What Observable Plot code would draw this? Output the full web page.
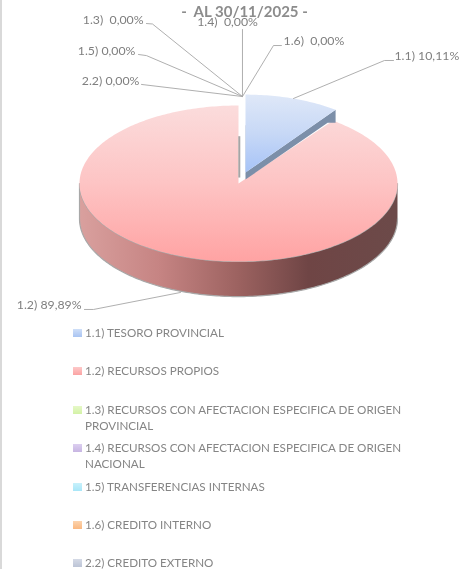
<!DOCTYPE html>
<html><head><meta charset="utf-8">
<script src="https://cdn.jsdelivr.net/npm/d3@7"></script>
<script src="https://cdn.jsdelivr.net/npm/@observablehq/plot@0.6"></script>
<style>
html,body{margin:0;padding:0;background:#fff;width:474px;height:569px;overflow:hidden}
body::before{content:"";position:fixed;left:0;top:0;bottom:0;width:1.5px;background:#d9d9d9}
#chart svg{display:block;filter:blur(0.4px)}
#legend{font:11.65px/16px Lato,sans-serif;color:#858585;margin-top:5px;filter:blur(0.3px)}
.item{position:relative;height:38.4px;padding-left:85px;width:330px}
.item i{position:absolute;left:73px;top:4px;width:9px;height:8px}
</style></head><body>
<div id="chart"></div><div id="legend"></div>
<script>
const titleText = "-  AL 30/11/2025 -";
const codes = ["1.1)","1.2)","1.3)","1.4)","1.5)","1.6)","2.2)"];
const shares = [10.11,89.89,0,0,0,0,0];
const valueText = ["10,11%","89,89%","0,00%","0,00%","0,00%","0,00%","0,00%"];
const labelGap = [" ", " ", "  ", "  ", " ", "  ", " "];
const names = ["TESORO PROVINCIAL","RECURSOS PROPIOS","RECURSOS CON AFECTACION ESPECIFICA DE ORIGEN PROVINCIAL","RECURSOS CON AFECTACION ESPECIFICA DE ORIGEN NACIONAL","TRANSFERENCIAS INTERNAS","CREDITO INTERNO","CREDITO EXTERNO"];
const swatchTop = ["#cfdff8","#fdc9c9","#e6f8c8","#dccff0","#c8f1fb","#fcd4ae","#d5dae6"];
const swatchBottom = ["#a9c4f2","#fba3a3","#d3f2a6","#c7b5e2","#a8e6f8","#fab880","#bcc4d6"];

// Layout of the leader lines in pie units (1 = the pie's radius).
const leaderU = [[.346,.918,.975],[-.365,-.912,-.969],[.025,-.541,-.579],[.025,.025],[.025,-.579,-.629],[.025,.22,.27],[.025,-.61]];
const leaderV = [[1.09,1.577,1.577],[-1.397,-1.615,-1.615],[1.115,2.045,2.051],[1.115,1.974],[1.115,1.64,1.654],[1.115,1.769,1.769],[1.115,1.27]];
const labelU = [.981,-.987,-.597,-.069,-.648,.283,-.623];
const labelV = [1.628,-1.564,2.09,2.065,1.692,1.82,1.31];
const labelSide = ["start","end","end","middle","end","start","end"];

const turn = 2*Math.PI;
const fractions = d3.pie().sort(null).value(d=>d)(shares.map(s=>s)).map(a=>[a.startAngle/turn,a.endAngle/turn]);
const [blueFrom,blueTo] = fractions[0];
const depth = .45, step = 1/360;
function arcPts(a,b,rx=1,ox=0,oy=0,dz=0){
  return d3.range(a,b,step).concat(b).map(f=>({u:ox+rx*Math.sin(f*turn),v:oy+Math.cos(f*turn)-dz}));
}
const wedge = (a,b,rx,ox,oy)=>[{u:ox,v:oy},...arcPts(a,b,rx,ox,oy)];
const wall = [...arcPts(.25,.75),...arcPts(.25,.75,1,0,0,depth).reverse()];

const pinkTop = wedge(blueTo,1,1,0,0);
const bx=.044, by=.14, brx=.955;
const blueTop = wedge(blueFrom,blueTo,brx,bx,by);
const rim = arcPts(blueTo,blueTo,brx,bx,by)[0];
const blueWall = [{u:bx,v:by},rim,{u:rim.u,v:rim.v-.165},{u:rim.u-.05,v:rim.v-.165},{u:bx,v:by-.09}];

const leaders = codes.flatMap((c,i)=>leaderU[i].map((u,j)=>({c,u,v:leaderV[i][j]})));
const labels = codes.map((c,i)=>({t:`${c}${labelGap[i]}${valueText[i]}`,u:labelU[i],v:labelV[i],side:labelSide[i]}));

const stops=(id,dir,list)=>{return ()=>{
  const d=d3.create("svg:defs");
  const g=d.append("linearGradient").attr("id",id).attr("x1",0).attr("y1",0).attr("x2",dir?1:0).attr("y2",dir?0:1);
  list.forEach(([o,c])=>g.append("stop").attr("offset",o).attr("stop-color",c));
  return d.node();
}};
const lineOpts={x:"u",y:"v",curve:"linear"};
const fig = Plot.plot({
  width:474,height:320,margin:0,
  x:{domain:[-1,1],range:[79,397],axis:null},
  y:{domain:[-1,1],range:[261,105],axis:null},
  marks:[
    stops("gWall",1,[[0,"#d9a09e"],[.25,"#c68483"],[.5,"#9c6260"],[.72,"#6f4545"],[1,"#6c4a49"]]),
    stops("gPink",0,[[0,"#fbdcdc"],[.5,"#fdc4c4"],[1,"#ffa3a3"]]),
    stops("gBlue",0,[[0,"#dfe8f8"],[.5,"#c7d8f6"],[1,"#a6c3f7"]]),
    Plot.line(wall,{...lineOpts,fill:"url(#gWall)",stroke:"#a8a8a8",strokeWidth:1.2}),
    Plot.line(pinkTop,{...lineOpts,fill:"url(#gPink)"}),
    Plot.ruleX([0.005],{y1:.07,y2:.6,stroke:"#a5a5a5",strokeWidth:2}),
    Plot.line(blueWall,{...lineOpts,fill:"#7c8fa9"}),
    Plot.ruleX([bx+.006],{y1:by,y2:.74,stroke:"#98a5b8",strokeWidth:1.6}),
    Plot.line(blueTop,{...lineOpts,fill:"url(#gBlue)"}),
    Plot.line(leaders,{...lineOpts,z:"c",stroke:"#a6a6a6",strokeWidth:.9}),
    ...["start","end","middle"].map(s=>Plot.text(labels.filter(d=>d.side===s),{x:"u",y:"v",text:"t",textAnchor:s,fill:"#7f7f7f",fontSize:12.3,fontFamily:"Lato"})),
    Plot.text([titleText],{frameAnchor:"top",dx:7,dy:6,fill:"#8c8c8c",fontSize:15,fontWeight:"bold",fontFamily:"Lato"})
  ]
});
document.getElementById("chart").append(fig);
const legend=d3.select("#legend");
codes.forEach((c,i)=>{
  const r=legend.append("div").attr("class","item");
  r.append("i").style("background",`linear-gradient(${swatchTop[i]},${swatchBottom[i]})`);
  r.append("span").text(`${c} ${names[i]}`);
});
</script></body></html>
